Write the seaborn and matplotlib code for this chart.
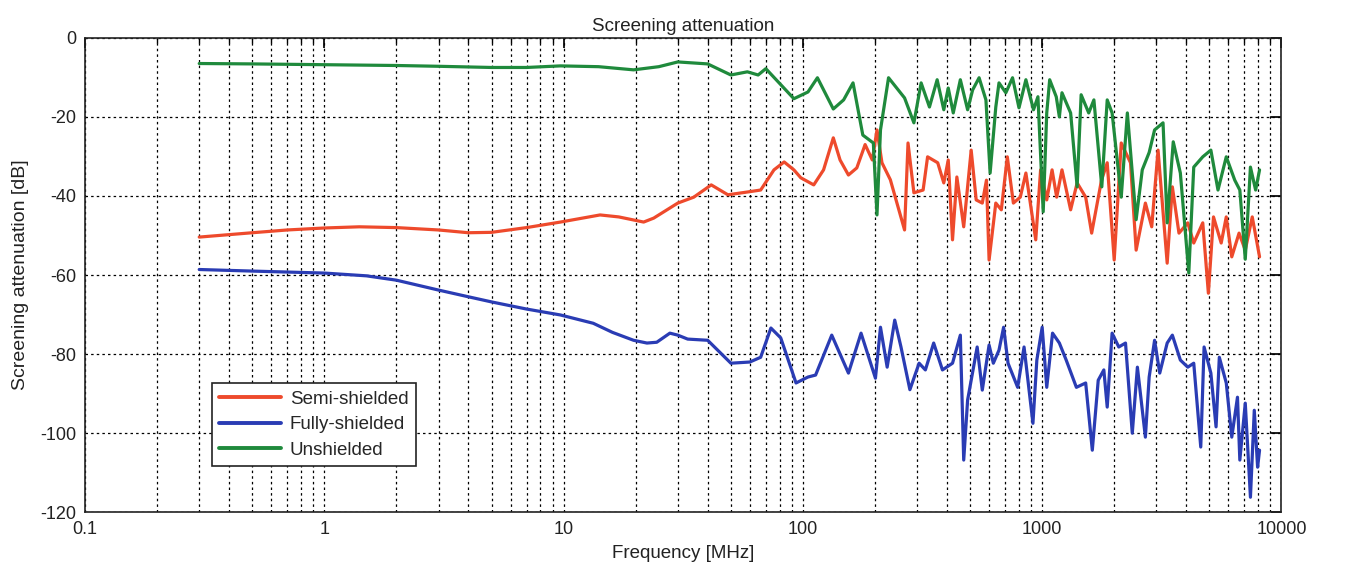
import pandas as pd
import matplotlib.pyplot as plt
import seaborn as sns
from matplotlib.ticker import FixedLocator, FixedFormatter, LogLocator, NullFormatter


# values (frequency in MHz, attenuation in dB)
freq_semi = [0.3, 0.5, 0.7, 1, 1.4, 2, 3, 4, 5, 7, 9.7, 14.2, 17, 21.6, 23.8, 30, 35, 41.4,
             48.6, 58.6, 66.6, 75.7, 83.5, 91.7, 98, 111, 122, 134, 143, 155, 168, 182, 195,
             204, 214, 232, 266, 275, 291, 318, 332, 366, 388, 405, 422, 440, 470, 505, 530,
             562, 585, 600, 640, 675, 715, 758, 810, 855, 940, 985, 1045, 1100, 1150, 1210,
             1315, 1400, 1520, 1610, 1770, 1870, 2000, 2140, 2340, 2470, 2700, 2870, 3050,
             3330, 3500, 3730, 4060, 4300, 4690, 4950, 5200, 5600, 5880, 6200, 6650, 7060,
             7550, 8100]
att_semi = [-50.4, -49.3, -48.6, -48.1, -47.8, -48.0, -48.6, -49.3, -49.2, -48.0, -46.6, -44.8,
            -45.3, -46.6, -45.6, -41.8, -40.3, -37.2, -39.7, -39.0, -38.5, -33.4, -31.4, -33.4,
            -35.4, -37.2, -33.4, -25.3, -30.9, -34.7, -32.9, -27.0, -30.9, -23.3, -31.6, -35.9,
            -48.6, -26.6, -39.2, -38.5, -30.1, -31.6, -36.7, -30.9, -51.1, -35.2, -47.8, -28.4,
            -41.0, -41.8, -36.0, -56.2, -41.8, -43.5, -30.1, -41.8, -40.3, -34.2, -51.1, -33.4,
            -41.0, -33.4, -40.3, -33.4, -43.5, -36.7, -40.3, -49.4, -36.0, -31.6, -56.2, -26.6,
            -31.6, -53.7, -41.8, -47.8, -28.4, -57.0, -37.7, -49.4, -46.8, -51.9, -46.8, -64.6,
            -45.3, -51.9, -45.3, -55.4, -49.4, -53.7, -45.3, -55.4]

freq_full = [0.3, 0.5, 1, 1.5, 2, 3, 4, 5, 7, 9.7, 13.3, 16, 19.6, 22.3, 24.5, 27.8, 30, 33,
             40, 50, 60, 66.6, 73.5, 80.8, 93.6, 105, 113, 132, 155, 175, 201, 211, 225, 242,
             257, 280, 306, 325, 352, 383, 422, 455, 470, 488, 535, 562, 600, 625, 660, 690,
             720, 790, 840, 915, 950, 1000, 1045, 1105, 1180, 1260, 1390, 1520, 1620, 1715,
             1810, 1870, 1960, 2090, 2230, 2380, 2500, 2700, 2800, 2950, 3100, 3330, 3500,
             3780, 4060, 4300, 4600, 4750, 5070, 5330, 5500, 5880, 6200, 6550, 6700, 7060,
             7420, 7700, 7950, 8100]
att_full = [-58.6, -59.0, -59.5, -60.2, -61.3, -63.8, -65.5, -66.8, -68.6, -70.1, -72.2, -74.5,
            -76.5, -77.2, -77.0, -74.7, -75.2, -76.2, -76.5, -82.3, -82.0, -80.8, -73.4, -75.9,
            -87.3, -85.8, -85.3, -75.2, -84.8, -74.7, -86.1, -73.2, -83.3, -71.4, -78.2, -89.0,
            -82.3, -84.0, -77.2, -84.0, -82.3, -75.2, -106.8, -91.6, -78.2, -89.1, -77.7, -82.3,
            -79.0, -73.2, -82.3, -88.4, -78.2, -97.5, -81.5, -73.2, -88.4, -74.7, -77.2, -81.5,
            -88.4, -87.3, -104.3, -86.6, -84.0, -93.4, -74.7, -78.2, -77.2, -100.0, -83.3,
            -101.0, -85.8, -76.5, -84.8, -77.2, -75.2, -81.5, -83.3, -82.3, -103.5, -78.2,
            -84.8, -98.4, -80.8, -87.3, -101.0, -90.9, -106.8, -92.4, -116.2, -94.2, -108.6,
            -104.3]

freq_unsh = [0.3, 0.5, 1, 2, 3, 5, 7, 9.7, 14, 19.6, 25, 30, 40, 50, 58.6, 65, 70, 91.7, 105,
             115, 134, 148, 162, 178, 197, 204, 211, 228, 266, 291, 312, 338, 364, 388, 405,
             425, 455, 488, 512, 545, 582, 606, 640, 660, 705, 752, 800, 855, 920, 960, 1010,
             1045, 1075, 1145, 1180, 1210, 1315, 1400, 1455, 1565, 1645, 1775, 1870, 1960,
             2140, 2270, 2470, 2620, 2800, 2950, 3200, 3330, 3530, 3780, 4100, 4300, 4690,
             5070, 5430, 5880, 6380, 6700, 7060, 7420, 7800, 8100]
att_unsh = [-6.5, -6.6, -6.8, -7.0, -7.2, -7.5, -7.5, -7.1, -7.3, -8.1, -7.3, -6.1, -6.6, -9.4,
            -8.6, -9.4, -7.8, -15.4, -13.7, -10.1, -18.0, -15.7, -11.4, -24.6, -26.6, -44.8,
            -23.3, -10.1, -15.2, -21.5, -11.4, -17.5, -10.6, -18.2, -12.7, -19.0, -10.6, -18.2,
            -13.2, -10.1, -15.7, -34.2, -17.5, -11.4, -13.9, -10.1, -17.7, -10.6, -18.2, -14.9,
            -44.0, -19.0, -10.6, -14.9, -20.0, -13.9, -19.0, -37.7, -14.4, -19.0, -15.7, -37.7,
            -15.7, -19.0, -40.3, -19.0, -46.0, -33.4, -29.0, -23.3, -21.5, -46.8, -26.3, -34.2,
            -59.5, -32.7, -30.1, -28.4, -38.5, -30.1, -36.0, -38.5, -56.0, -32.7, -38.5, -33.4]

labels = ['Semi-shielded', 'Fully-shielded', 'Unshielded']
colors = ['#ee4a2c', '#2a3cb4', '#1f8a3c']

df = pd.concat([
    pd.DataFrame({'freq': freq_semi, 'att': att_semi, 'cable': labels[0]}),
    pd.DataFrame({'freq': freq_full, 'att': att_full, 'cable': labels[1]}),
    pd.DataFrame({'freq': freq_unsh, 'att': att_unsh, 'cable': labels[2]}),
], ignore_index=True)

sns.set_theme(style='white')
plt.rcParams['font.family'] = ['Liberation Sans', 'DejaVu Sans']
plt.rcParams['axes.unicode_minus'] = False

fig = plt.figure(figsize=(13.72, 5.73), dpi=100)
ax = fig.add_axes([0.062, 0.106, 0.872, 0.828])

sns.lineplot(data=df, x='freq', y='att', hue='cable', hue_order=labels,
             palette=dict(zip(labels, colors)), estimator=None, sort=False,
             linewidth=2.3, ax=ax)

ax.set_xscale('log')
ax.set_xlim(0.1, 10000)
ax.set_ylim(-120, 0)

xt = [0.1, 1, 10, 100, 1000, 10000]
ax.xaxis.set_major_locator(FixedLocator(xt))
ax.xaxis.set_major_formatter(FixedFormatter(['0.1', '1', '10', '100', '1000', '10000']))
ax.xaxis.set_minor_locator(LogLocator(base=10, subs=range(2, 10), numticks=20))
ax.xaxis.set_minor_formatter(NullFormatter())
ax.set_yticks(range(-120, 1, 20))

grid_style = dict(color='black', linestyle=(0, (2, 2.5)), linewidth=0.9)
ax.grid(True, which='major', axis='both', **grid_style)
ax.grid(True, which='minor', axis='x', **grid_style)

ax.tick_params(which='both', direction='in', top=True, right=True, labelsize=13,
               color='black', labelcolor='#222222')
ax.tick_params(which='major', length=7, pad=6)
ax.tick_params(which='minor', length=3.5)
for s in ax.spines.values():
    s.set_color('#222222')
    s.set_linewidth(1.2)

ax.set_title('Screening attenuation', fontsize=13.5, color='#222222', pad=5)
ax.set_xlabel('Frequency [MHz]', fontsize=13.5, color='#222222', labelpad=5)
ax.set_ylabel('Screening attenuation [dB]', fontsize=14, color='#222222', labelpad=8)

leg = ax.legend(loc='lower left', bbox_to_anchor=(0.106, 0.097), fontsize=13.5,
                frameon=True, fancybox=False, framealpha=1, edgecolor='#222222',
                borderpad=0.4, handlelength=3.3, handletextpad=0.45,
                labelspacing=0.45, borderaxespad=0)
leg.get_frame().set_linewidth(1.2)
for line in leg.get_lines():
    line.set_linewidth(2.8)

fig.savefig('out.png', dpi=100)
